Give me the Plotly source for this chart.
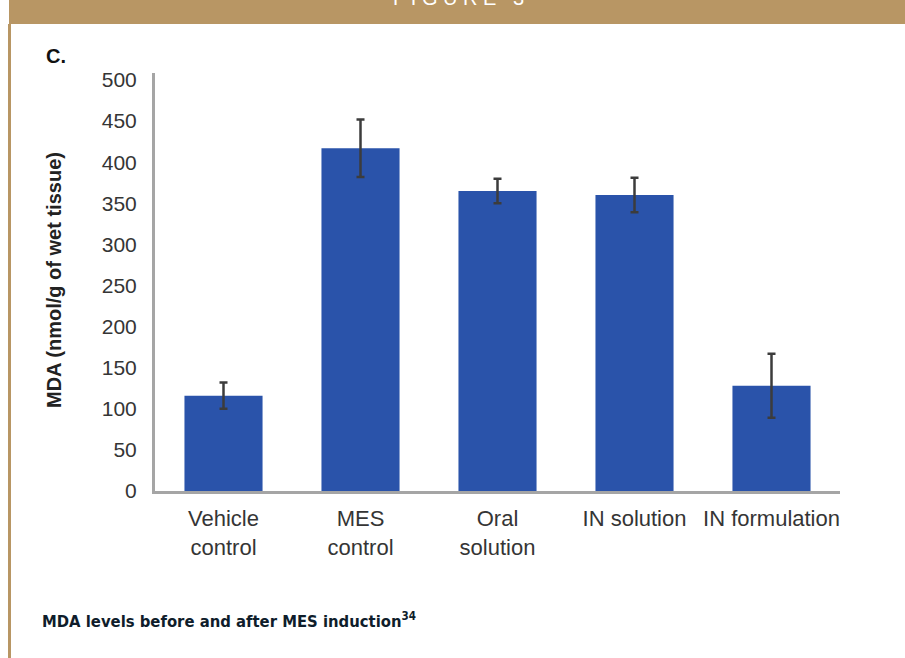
"""
plot.py

MDA levels bar chart (panel C)
"""

import plotly.graph_objects as go

# ---------------------------
# data
# ---------------------------

groups = ["Vehicle<br>control", "MES<br>control", "Oral<br>solution", "IN solution", "IN formulation"]
mda_mean = [116, 417, 365, 360, 128]
mda_sd = [16, 35, 15, 21, 39]

y_ticks = [0, 50, 100, 150, 200, 250, 300, 350, 400, 450, 500]

# ---------------------------
# page geometry (pixels)
# ---------------------------

W, H = 905, 658
L, R, T, B = 155, 65, 73, 167
PW, PH = W - L - R, H - T - B

TAN = "rgb(184,150,100)"
BLUE = "#2A53AA"
INK = "#353535"


def px_x(p):
    return (p - L) / PW


def px_y(p):
    return (H - B - p) / PH


fig = go.Figure()

fig.add_trace(go.Bar(
    x=groups,
    y=mda_mean,
    marker=dict(color=BLUE, line=dict(width=0)),
    error_y=dict(type="data", array=mda_sd, visible=True,
                 color="#3c3c3c", thickness=2.5, width=4),
    showlegend=False,
))

# ---------------------------
# frame: header band + left rule
# ---------------------------

fig.add_shape(type="rect", xref="paper", yref="paper",
              x0=px_x(9), x1=px_x(W + 2), y0=px_y(24), y1=px_y(-2),
              fillcolor=TAN, line=dict(width=0), layer="below")
fig.add_shape(type="line", xref="paper", yref="paper",
              x0=px_x(9.5), x1=px_x(9.5), y0=px_y(24), y1=px_y(H + 2),
              line=dict(color=TAN, width=3))

fig.add_annotation(text="F I G U R E   3", xref="paper", yref="paper",
                   x=px_x(458), y=px_y(-2), xanchor="center", yanchor="middle",
                   showarrow=False,
                   font=dict(family="Liberation Sans, Arial", size=20, color="white"))

fig.add_annotation(text="<b>C.</b>", xref="paper", yref="paper",
                   x=px_x(44), y=px_y(56), xanchor="left", yanchor="middle",
                   showarrow=False,
                   font=dict(family="Liberation Sans, Arial", size=20, color="#111"))

fig.add_annotation(text="<b>MDA (nmol/g of wet tissue)</b>", xref="paper", yref="paper",
                   x=px_x(54), y=px_y(280), xanchor="center", yanchor="middle",
                   textangle=-90, showarrow=False,
                   font=dict(family="Liberation Sans, Arial", size=20, color="#222"))

fig.add_annotation(text="<b>MDA levels before and after MES induction<sup>34</sup></b>",
                   xref="paper", yref="paper",
                   x=px_x(40), y=px_y(620), xanchor="left", yanchor="middle",
                   showarrow=False,
                   font=dict(family="DejaVu Sans Condensed, Liberation Sans, Arial",
                             size=16.5, color="#0f1d2b"))

# ---------------------------
# layout
# ---------------------------

fig.update_layout(
    width=W,
    height=H,
    margin=dict(l=L, r=R, t=T, b=B),
    paper_bgcolor="white",
    plot_bgcolor="white",
    bargap=0.43,
    font=dict(family="Liberation Sans, Arial", color=INK),
    xaxis=dict(
        showline=True, linecolor="#a5a5a5", linewidth=3,
        showgrid=False, zeroline=False,
        ticks="outside", ticklen=6, tickcolor="rgba(0,0,0,0)",
        tickfont=dict(size=22, color=INK),
    ),
    yaxis=dict(
        range=[0, 508.5],
        tickvals=y_ticks,
        showline=True, linecolor="#a5a5a5", linewidth=3,
        showgrid=False, zeroline=False,
        ticks="outside", ticklen=11, tickcolor="rgba(0,0,0,0)",
        tickfont=dict(size=21, color=INK),
    ),
)

# body margin off so the figure sits at the page corner
fig.write_html("out.html", config={"displayModeBar": False},
               post_script="document.body.style.margin='0';")
